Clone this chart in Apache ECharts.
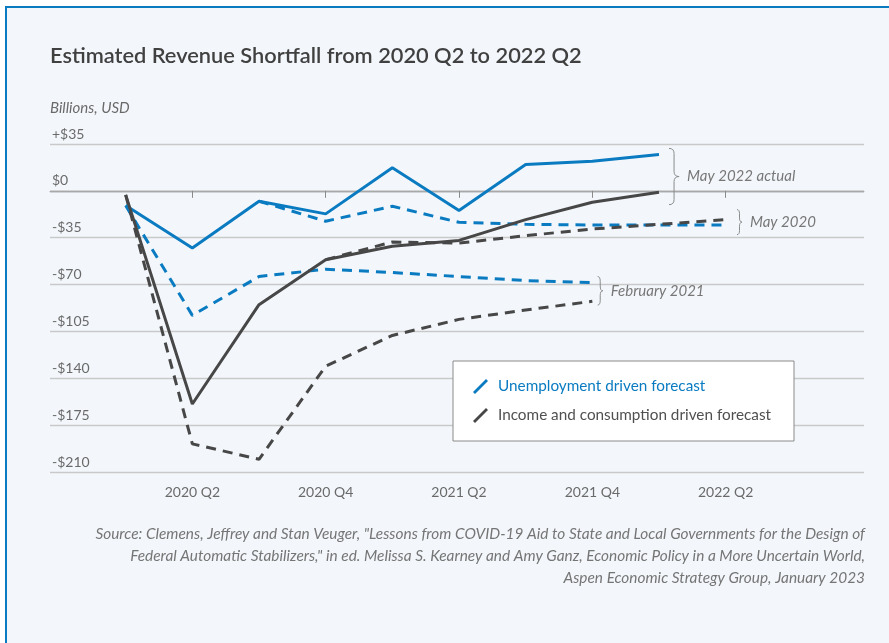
<!DOCTYPE html>
<html>
<head>
<meta charset="utf-8" />
<title>Estimated Revenue Shortfall</title>
<script src="https://cdn.jsdelivr.net/npm/echarts@6/dist/echarts.min.js"></script>
<style>
  html, body { margin: 0; padding: 0; background: #fff; }
  #wrap { position: relative; width: 889px; height: 643px; overflow: hidden; }
  #card { position: absolute; left: 5px; top: 6px; width: 900px; height: 660px;
          background: #f3f7fb; border-left: 2px solid #0a7bc1; border-top: 2px solid #0a7bc1; }
  #main { position: absolute; left: 0; top: 0; width: 889px; height: 643px; }
</style>
</head>
<body>
<div id="wrap">
  <div id="card"></div>
  <div id="main"></div>
</div>
<script type="text/javascript">
    // quarters, 2020 Q1 .. 2022 Q2
    var quarters = ['2020 Q1', '2020 Q2', '2020 Q3', '2020 Q4', '2021 Q1',
                    '2021 Q2', '2021 Q3', '2021 Q4', '2022 Q1', '2022 Q2'];
    var xTicks = [1, 3, 5, 7, 9];

    // billions USD
    var unempActual  = [-11, -42.7, -7.8, -17.2, 17.2, -14.7, 19.7, 22.1, 27.2, null];
    var incomeActual = [-3, -159.2, -85, -51.4, -41.4, -37, -21.5, -8.5, -1, null];
    var unempMay2020  = [null, null, -7.8, -22.7, -11.5, -23.5, -25, -25.5, -25.5, -25.5];
    var incomeMay2020 = [null, null, null, -51.4, -38.2, -39, -33.5, -28.5, -25, -21.5];
    var unempFeb2021  = [-11, -93, -64, -58.5, -61, -64, -67, -68.5, null, null];
    var incomeFeb2021 = [-3, -189, -200.5, -131, -108, -96, -89, -82.5, null, null];

    var yTicks = [35, 0, -35, -70, -105, -140, -175, -210];
    var yTickLabels = ['+$35', '$0', '-$35', '-$70', '-$105', '-$140', '-$175', '-$210'];

    // bracket annotations: x position (quarter index), top, bottom, text
    var braceX = [8.15, 9.17, 7.08];
    var braceTop = [31.7, -14, -64];
    var braceBottom = [-10.3, -32.7, -85.3];
    var braceLabels = ['May 2022 actual', 'May 2020', 'February 2021'];

    var sourceLines = [
        'Source: Clemens, Jeffrey and Stan Veuger, "Lessons from COVID-19 Aid to State and Local Governments for the Design of',
        'Federal Automatic Stabilizers," in ed. Melissa S. Kearney and Amy Ganz, Economic Policy in a More Uncertain World,',
        'Aspen Economic Strategy Group, January 2023'
    ];

    var BLUE = '#0a7bc1';
    var DARK = '#474747';
    var FONT = 'Lato';
    var UNEMP = 'Unemployment driven forecast';
    var INCOME = 'Income and consumption driven forecast';

    function pairs(arr) {
        var res = [];
        for (var i = 0; i < arr.length; i++) res.push([i, arr[i]]);
        return res;
    }

    function lineSeries(name, arr, color, dashed) {
        return {
            name: name,
            type: 'line',
            data: pairs(arr),
            symbol: 'none',
            connectNulls: false,
            silent: true,
            lineStyle: { color: color, width: 3, type: dashed ? [10, 7] : 'solid' },
            itemStyle: { color: color },
            z: dashed ? 2 : 3
        };
    }

    var braceData = [];
    for (var b = 0; b < braceX.length; b++) braceData.push([braceX[b], braceTop[b], braceBottom[b]]);

    var sourceGraphics = [];
    for (var s = 0; s < sourceLines.length; s++) {
        sourceGraphics.push({
            type: 'text',
            right: 24, top: 527 + s * 22,
            style: { text: sourceLines[s], fill: '#757575', font: 'italic 15.4px ' + FONT }
        });
    }

    var myChart = echarts.init(document.getElementById('main'), null, { renderer: 'canvas' });

    var option = {
        backgroundColor: 'transparent',
        animation: false,
        title: [
            {
                text: 'Estimated Revenue Shortfall from 2020 Q2 to 2022 Q2',
                left: 45, top: 40,
                textStyle: { fontFamily: FONT, fontSize: 21.8, fontWeight: 600, color: '#404040' }
            },
            {
                text: 'Billions, USD',
                left: 45, top: 96,
                textStyle: { fontFamily: FONT, fontSize: 15, fontStyle: 'italic', fontWeight: 'normal', color: '#6a6a6a' }
            }
        ],
        graphic: sourceGraphics,
        legend: {
            orient: 'vertical',
            left: 453, top: 361,
            padding: [18, 23, 18, 20],
            itemGap: 14,
            itemWidth: 15, itemHeight: 15,
            icon: 'path://M0,13 L13,0 L15,2 L2,15 Z',
            backgroundColor: '#ffffff',
            borderColor: '#8a8a8a',
            borderWidth: 1,
            borderRadius: 0,
            selectedMode: false,
            textStyle: { fontFamily: FONT, fontSize: 15.3, padding: [0, 0, 0, 5] },
            data: [
                { name: UNEMP, textStyle: { color: BLUE } },
                { name: INCOME, textStyle: { color: '#505050' } }
            ]
        },
        grid: { left: 50, right: 25, top: 144, bottom: 171, containLabel: false },
        xAxis: {
            type: 'value',
            min: -1.135, max: 11.075,
            splitLine: { show: false },
            axisLine: { show: true, lineStyle: { color: '#a8a8a8', width: 1 } },
            axisTick: { show: true, customValues: xTicks, length: 7, lineStyle: { color: '#8a8a8a' } },
            axisLabel: {
                customValues: xTicks,
                margin: 13,
                fontFamily: FONT, fontSize: 14, color: '#6a6a6a',
                formatter: function (v) { return quarters[Math.round(v)] || ''; }
            }
        },
        yAxis: {
            type: 'value',
            min: -210, max: 35, interval: 35,
            axisLine: { show: false },
            axisTick: { show: false },
            splitLine: {
                show: true,
                lineStyle: { color: ['#c9c9c9', '#c9c9c9', '#c9c9c9', '#c9c9c9', '#c9c9c9', '#c9c9c9', '#6e6e6e', '#c9c9c9'], width: 1.3 }
            },
            axisLabel: {
                inside: true,
                margin: 2,
                verticalAlign: 'bottom',
                padding: [0, 0, 3, 0],
                fontFamily: FONT, fontSize: 14, color: '#6a6a6a',
                formatter: function (v) {
                    var i = yTicks.indexOf(v);
                    return i >= 0 ? yTickLabels[i] : '';
                }
            }
        },
        series: [
            lineSeries(UNEMP, unempFeb2021, BLUE, true),
            lineSeries(INCOME, incomeFeb2021, DARK, true),
            lineSeries(UNEMP, unempMay2020, BLUE, true),
            lineSeries(INCOME, incomeMay2020, DARK, true),
            lineSeries(UNEMP, unempActual, BLUE, false),
            lineSeries(INCOME, incomeActual, DARK, false),
            {
                type: 'custom',
                silent: true,
                clip: false,
                data: braceData,
                encode: { x: 0, y: [1, 2] },
                renderItem: function (params, api) {
                    var top = api.coord([api.value(0), api.value(1)]);
                    var bot = api.coord([api.value(0), api.value(2)]);
                    var x0 = top[0], t = top[1], bt = bot[1];
                    var h = bt - t, m = (t + bt) / 2;
                    var w = Math.max(5, h * 0.18), r = Math.min(5, h / 6);
                    var xm = x0 + w * 0.5, xt = x0 + w;
                    var d = 'M' + x0 + ',' + t +
                        ' Q' + xm + ',' + t + ' ' + xm + ',' + (t + r) +
                        ' L' + xm + ',' + (m - r) +
                        ' Q' + xm + ',' + m + ' ' + xt + ',' + m +
                        ' Q' + xm + ',' + m + ' ' + xm + ',' + (m + r) +
                        ' L' + xm + ',' + (bt - r) +
                        ' Q' + xm + ',' + bt + ' ' + x0 + ',' + bt;
                    return {
                        type: 'group',
                        children: [
                            { type: 'path', shape: { pathData: d },
                              style: { fill: 'none', stroke: '#8a8a8a', lineWidth: 1 } },
                            { type: 'text', x: xt + 8, y: m,
                              style: { text: braceLabels[params.dataIndex], fill: '#777777',
                                       font: 'italic 15px ' + FONT, verticalAlign: 'middle', align: 'left' } }
                        ]
                    };
                }
            }
        ]
    };
    myChart.setOption(option);
</script>
</body>
</html>
